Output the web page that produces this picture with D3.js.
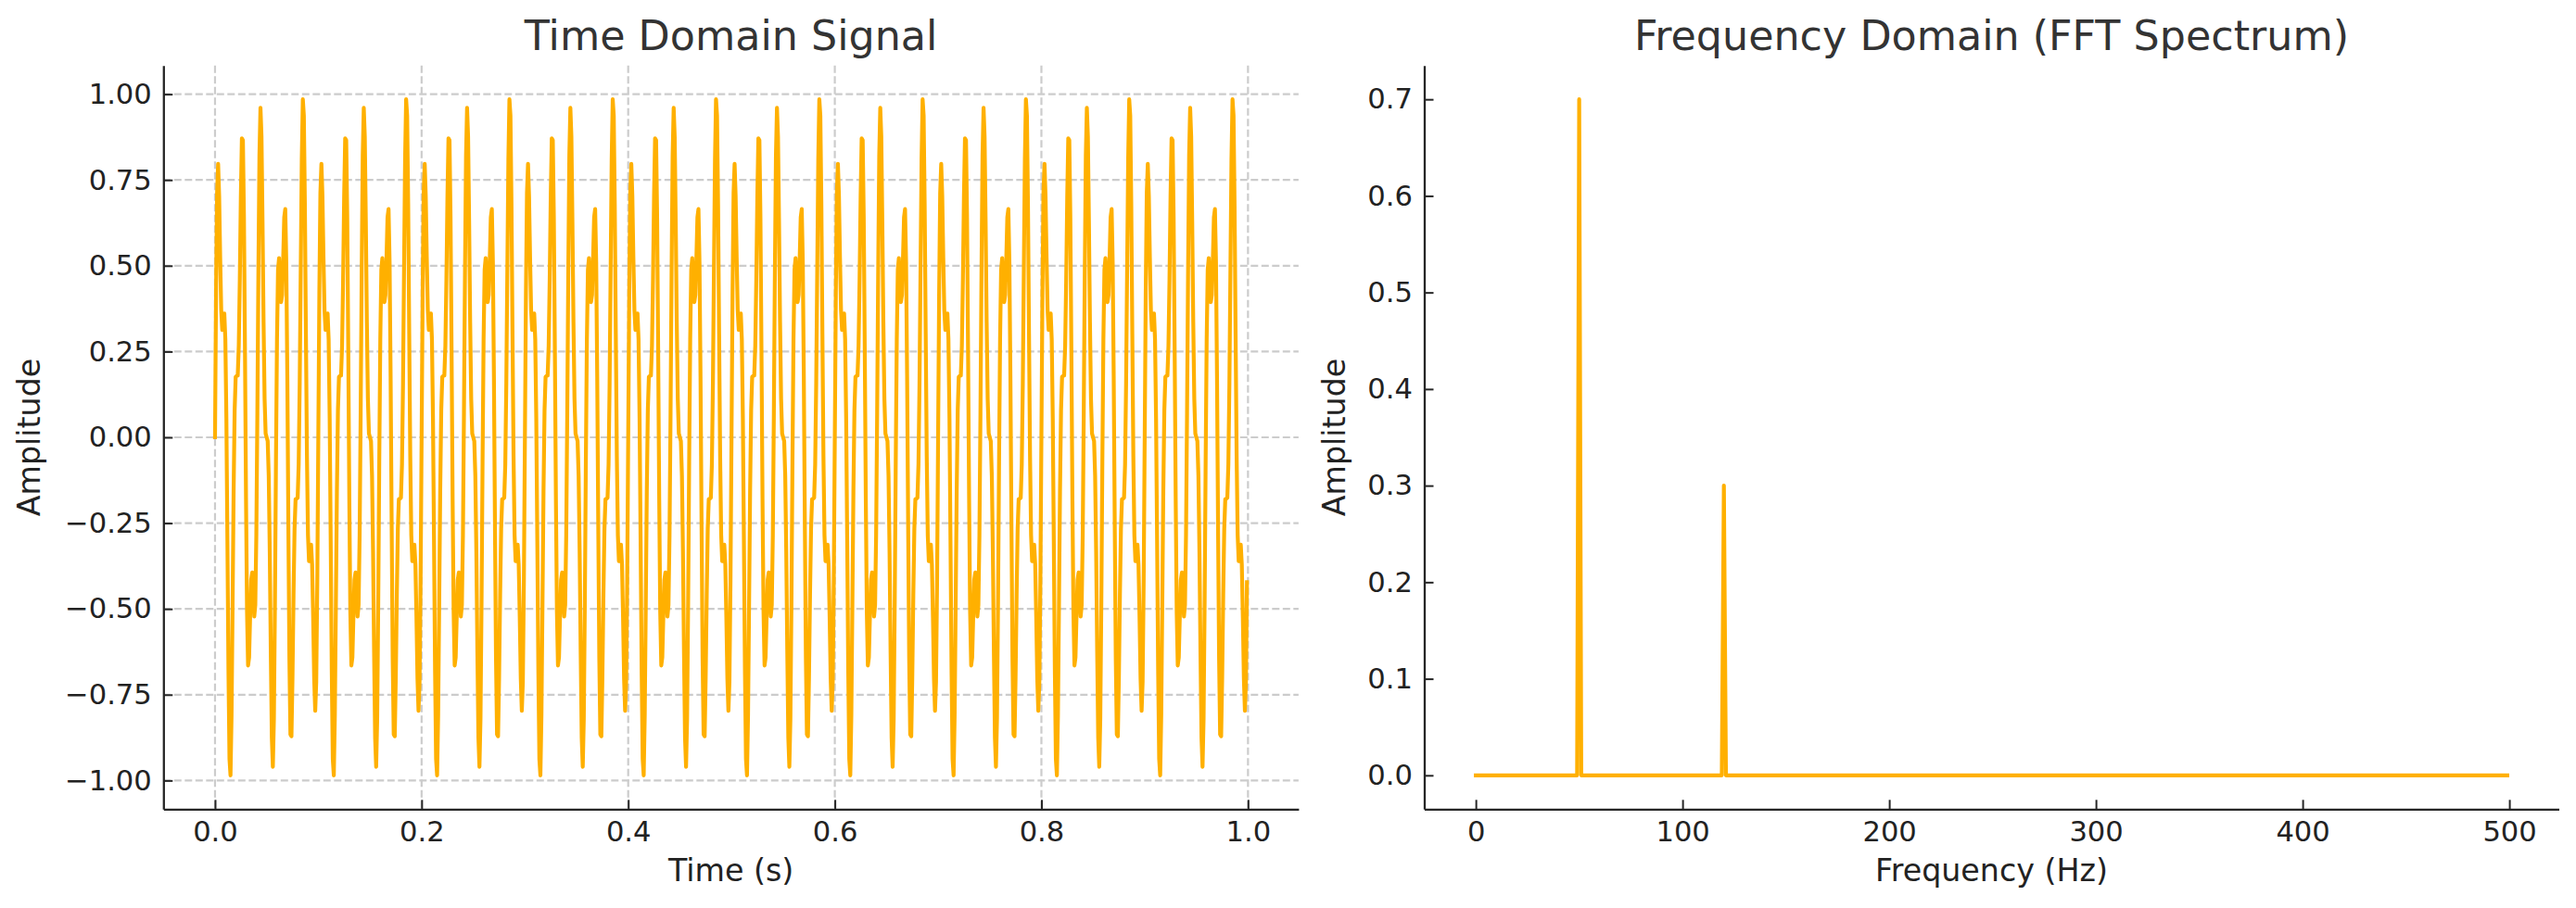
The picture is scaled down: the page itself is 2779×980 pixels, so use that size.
<!DOCTYPE html>
<html>
<head>
<meta charset="utf-8">
<script src="https://cdn.jsdelivr.net/npm/d3@7"></script>
<style>
  html, body { margin: 0; padding: 0; background: #fff; }
  svg { display: block; font-family: "DejaVu Sans", sans-serif; }
</style>
</head>
<body>
<svg id="chart" width="2779" height="980"></svg>
<script>
// time domain: one 0.1 s period (100 samples at 1000 Hz), the plot repeats it 10 times
const sampleRate = 1000;
const periodCount = 10;
const signalPeriod = [
  0.000, 0.422, 0.711, 0.797, 0.703, 0.524, 0.371, 0.313, 0.337, 0.361,
  0.285, 0.055, -0.301, -0.677, -0.937, -0.985, -0.810, -0.492, -0.158, 0.078,
  0.176, 0.179, 0.180, 0.267, 0.460, 0.700, 0.871, 0.866, 0.643, 0.254,
  -0.176, -0.511, -0.665, -0.641, -0.521, -0.415, -0.394, -0.456, -0.522, -0.488,
  -0.285, 0.072, 0.486, 0.820, 0.960, 0.876, 0.628, 0.335, 0.112, 0.011,
  0.000, -0.011, -0.112, -0.335, -0.628, -0.876, -0.960, -0.820, -0.486, -0.072,
  0.285, 0.488, 0.522, 0.456, 0.394, 0.415, 0.521, 0.641, 0.665, 0.511,
  0.176, -0.254, -0.643, -0.866, -0.871, -0.700, -0.460, -0.267, -0.180, -0.179,
  -0.176, -0.078, 0.158, 0.492, 0.810, 0.985, 0.937, 0.677, 0.301, -0.055,
  -0.285, -0.361, -0.337, -0.313, -0.371, -0.524, -0.703, -0.797, -0.711, -0.422
];

// frequency domain: bins 0..499 Hz, zero everywhere except the two peaks
const binCount = 500;
const peakFreqs = [50, 120];
const peakAmps = [0.70, 0.30];

const timeTicksX = [0, 0.2, 0.4, 0.6, 0.8, 1.0];
const timeTicksY = [-1, -0.75, -0.5, -0.25, 0, 0.25, 0.5, 0.75, 1];
const freqTicksX = [0, 100, 200, 300, 400, 500];
const freqTicksY = [0, 0.1, 0.2, 0.3, 0.4, 0.5, 0.6, 0.7];

const timeData = d3.range(signalPeriod.length * periodCount)
  .map(i => ({t: i / sampleRate, v: signalPeriod[i % signalPeriod.length]}));
const freqData = d3.range(binCount).map(f => {
  let k = peakFreqs.indexOf(f);
  return {f: f, a: k < 0 ? 0 : peakAmps[k]};
});

const lineColor = "#FFB000",
      axisColor = "#262626",
      plotTop = 70.7, plotBottom = 873.3;

const svg = d3.select("#chart");
svg.append("rect").attr("width", 2779).attr("height", 980).attr("fill", "#fff");

// pad a domain like matplotlib autoscale (5% each side)
function padded(ext) {
  let m = (ext[1] - ext[0]) * 0.05;
  return [ext[0] - m, ext[1] + m];
}

function drawPanel(opts) {
  let x = d3.scaleLinear().domain(padded(d3.extent(opts.data, opts.xv))).range([opts.left, opts.right]),
      y = d3.scaleLinear().domain(padded(d3.extent(opts.data, opts.yv))).range([plotBottom, plotTop]),
      g = svg.append("g");

  if (opts.grid) {
    let grid = g.append("g").attr("stroke", "#cccccc").attr("stroke-width", 2.2).attr("stroke-dasharray", "8,3.5");
    grid.selectAll(".gx").data(opts.xTicks).enter().append("line")
      .attr("x1", d => x(d)).attr("x2", d => x(d))
      .attr("y1", plotTop).attr("y2", plotBottom);
    grid.selectAll(".gy").data(opts.yTicks).enter().append("line")
      .attr("x1", opts.left).attr("x2", opts.right)
      .attr("y1", d => y(d)).attr("y2", d => y(d));
  }

  g.append("path")
    .datum(opts.data)
    .attr("fill", "none")
    .attr("stroke", lineColor)
    .attr("stroke-width", 4.2)
    .attr("stroke-linejoin", "round")
    .attr("stroke-linecap", "square")
    .attr("d", d3.line().x(d => x(opts.xv(d))).y(d => y(opts.yv(d))));

  let xAxis = g.append("g")
    .attr("transform", `translate(0,${plotBottom})`)
    .call(d3.axisBottom(x).tickValues(opts.xTicks).tickFormat(opts.xFormat)
      .tickSizeInner(-10).tickSizeOuter(0).tickPadding(13));
  let yAxis = g.append("g")
    .attr("transform", `translate(${opts.left},0)`)
    .call(d3.axisLeft(y).tickValues(opts.yTicks).tickFormat(opts.yFormat)
      .tickSizeInner(-10).tickSizeOuter(0).tickPadding(12.5));

  [xAxis, yAxis].forEach(a => {
    a.select(".domain").attr("stroke", axisColor).attr("stroke-width", 2.3);
    a.selectAll(".tick line").attr("stroke", axisColor).attr("stroke-width", 2);
    a.selectAll(".tick text").attr("fill", "#222").style("font-size", "30.6px")
      .style("font-family", "DejaVu Sans");
  });

  let cx = (opts.left + opts.right) / 2;
  svg.append("text")
    .attr("x", cx).attr("y", 54)
    .attr("text-anchor", "middle")
    .attr("fill", "#333")
    .style("font-size", "44.4px")
    .text(opts.title);
  svg.append("text")
    .attr("x", cx).attr("y", 951)
    .attr("text-anchor", "middle")
    .attr("fill", "#222")
    .style("font-size", "33.3px")
    .text(opts.xLabel);
  svg.append("text")
    .attr("transform", `translate(${opts.yLabelX},${(plotTop + plotBottom) / 2}) rotate(-90)`)
    .attr("text-anchor", "middle")
    .attr("fill", "#222")
    .style("font-size", "33.3px")
    .text(opts.yLabel);
}

drawPanel({
  data: timeData, xv: d => d.t, yv: d => d.v,
  left: 176.3, right: 1400.9,
  xTicks: timeTicksX, yTicks: timeTicksY,
  xFormat: d3.format(".1f"), yFormat: d3.format(".2f"),
  grid: true,
  title: "Time Domain Signal", xLabel: "Time (s)", yLabel: "Amplitude", yLabelX: 43
});

drawPanel({
  data: freqData, xv: d => d.f, yv: d => d.a,
  left: 1536.5, right: 2760.5,
  xTicks: freqTicksX, yTicks: freqTicksY,
  xFormat: d3.format("d"), yFormat: d3.format(".1f"),
  grid: false,
  title: "Frequency Domain (FFT Spectrum)", xLabel: "Frequency (Hz)", yLabel: "Amplitude", yLabelX: 1451
});
</script>
</body>
</html>
